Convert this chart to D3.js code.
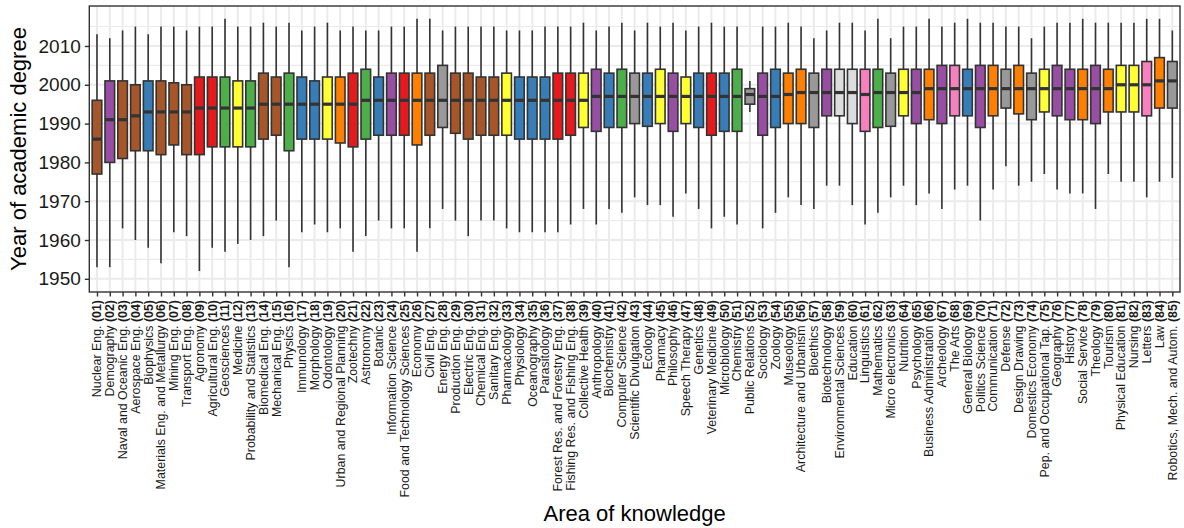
<!DOCTYPE html>
<html>
<head>
<meta charset="utf-8">
<script src="https://cdn.jsdelivr.net/npm/d3@7"></script>
<style>
  html, body { margin: 0; padding: 0; background: #fff; }
  svg { display: block; font-family: "Liberation Sans", Arial, Helvetica, sans-serif; }
</style>
</head>
<body>
<svg id="chart" width="1184" height="528"></svg>
<script>
// Areas of knowledge, in plotting order
const areas = [
  "Nuclear Eng.", "Demography", "Naval and Oceanic Eng.", "Aerospace Eng.", "Biophysics",
  "Materials Eng. and Metallurgy", "Mining Eng.", "Transport Eng.", "Agronomy", "Agricultural Eng.",
  "Geosciences", "Medicine", "Probability and Statistics", "Biomedical Eng.", "Mechanical Eng.",
  "Physics", "Immunology", "Morphology", "Odontology", "Urban and Regional Planning",
  "Zootechny", "Astronomy", "Botanic", "Information Science", "Food and Technology Sciences",
  "Economy", "Civil Eng.", "Energy Eng.", "Production Eng.", "Electric Eng.",
  "Chemical Eng.", "Sanitary Eng.", "Pharmacology", "Physiology", "Oceanography",
  "Parasitology", "Forest Res. and Forestry Eng.", "Fishing Res. and Fishing Eng.", "Collective Health", "Anthropology",
  "Biochemistry", "Computer Science", "Scientific Divulgation", "Ecology", "Pharmacy",
  "Philosophy", "Speech Therapy", "Genetics", "Veterinary Medicine", "Microbiology",
  "Chemistry", "Public Relations", "Sociology", "Zoology", "Museology",
  "Architecture and Urbanism", "Bioethics", "Biotechnology", "Environmental Sciences", "Education",
  "Linguistics", "Mathematics", "Micro electronics", "Nutrition", "Psychology",
  "Business Administration", "Archeology", "The Arts", "General Biology", "Politics Science",
  "Communication", "Defense", "Design Drawing", "Domestics Economy", "Pep. and Occupational Tap.",
  "Geography", "History", "Social Service", "Theology", "Tourism",
  "Physical Education", "Nursing", "Letters", "Law", "Robotics, Mech. and Autom."
];

// Grouping of each area (used for the fill colour)
const groups = [
  "ENG", "HUM", "ENG", "ENG", "BIO", "ENG", "ENG", "ENG", "AGR", "AGR",
  "EXA", "HEA", "EXA", "ENG", "ENG", "EXA", "BIO", "BIO", "HEA", "SOC",
  "AGR", "EXA", "BIO", "HUM", "AGR", "SOC", "ENG", "MUL", "ENG", "ENG",
  "ENG", "ENG", "HEA", "BIO", "BIO", "BIO", "AGR", "AGR", "HEA", "HUM",
  "BIO", "EXA", "MUL", "BIO", "HEA", "HUM", "HEA", "BIO", "AGR", "BIO",
  "EXA", "MUL", "HUM", "BIO", "SOC", "SOC", "MUL", "HUM", "OTH", "OTH",
  "LET", "EXA", "MUL", "HEA", "HUM", "SOC", "HUM", "LET", "BIO", "HUM",
  "SOC", "MUL", "SOC", "MUL", "HEA", "HUM", "HUM", "SOC", "HUM", "SOC",
  "HEA", "HEA", "LET", "SOC", "MUL"
];

// Box plot statistics: lower whisker, first quartile, median, third quartile, upper whisker
const whiskerLow = [
  1953, 1953, 1963, 1960, 1958, 1954, 1962, 1961, 1952, 1958,
  1957, 1959, 1960, 1961, 1965, 1953, 1962, 1964, 1962, 1963,
  1957, 1961, 1965, 1963, 1963, 1957, 1963, 1968, 1965, 1961,
  1965, 1965, 1963, 1962, 1962, 1962, 1962, 1964, 1968, 1964,
  1968, 1967, 1971, 1969, 1969, 1966, 1972, 1968, 1963, 1966,
  1964, 1993, 1963, 1967, 1971, 1969, 1968, 1974, 1974, 1969,
  1964, 1967, 1971, 1974, 1969, 1972, 1968, 1973, 1974, 1965,
  1973, 1979, 1974, 1975, 1977, 1973, 1972, 1972, 1968, 1977,
  1975, 1975, 1971, 1975, 1976
];
const q1 = [
  1977, 1980, 1981, 1983, 1983, 1982, 1984.5, 1982, 1982, 1984,
  1984, 1984, 1984, 1986, 1987, 1983, 1986, 1986, 1986, 1985,
  1984, 1986, 1987, 1987, 1987, 1984.5, 1987, 1989, 1987.5, 1986,
  1987, 1987, 1987, 1986, 1986, 1986, 1986, 1987, 1989, 1988,
  1989, 1989, 1990, 1989.3, 1990, 1988, 1990, 1989, 1987, 1988,
  1988, 1995, 1987, 1989, 1990, 1990, 1989, 1992, 1992, 1990,
  1988, 1989, 1989.3, 1992, 1990, 1991, 1990, 1992, 1992, 1989,
  1992, 1994, 1992.5, 1991, 1993, 1992, 1991, 1991, 1990, 1993,
  1993, 1993, 1992, 1994, 1994
];
const median = [
  1986, 1991, 1991, 1992, 1993, 1993, 1993, 1993, 1994, 1994,
  1994, 1994, 1994, 1995, 1995, 1995, 1995, 1995, 1995, 1995,
  1995, 1996, 1996, 1996, 1996, 1996, 1996, 1996, 1996, 1996,
  1996, 1996, 1996, 1996, 1996, 1996, 1996, 1996, 1996, 1997,
  1997, 1997, 1997, 1997, 1997, 1997, 1997, 1997, 1997, 1997,
  1997, 1997.5, 1997, 1997, 1997.5, 1998, 1998, 1998, 1998, 1998,
  1997.5, 1998, 1998, 1998, 1998, 1999, 1999, 1999, 1999, 1999,
  1999, 1999, 1999, 1999, 1999, 1999, 1999, 1999, 1999, 1999,
  2000, 2000, 2000, 2001, 2001
];
const q3 = [
  1996, 2001, 2001, 2000, 2001, 2001, 2000.5, 2000, 2002, 2002,
  2002, 2001, 2001, 2003, 2002, 2003, 2002, 2001, 2002, 2002,
  2003, 2004, 2002, 2003, 2003, 2003, 2003, 2005, 2003, 2003,
  2002, 2002, 2003, 2002, 2002, 2002, 2003, 2003, 2003, 2004,
  2003, 2004, 2003, 2003, 2004, 2003, 2002, 2003, 2003, 2003,
  2004, 1999, 2003, 2004, 2003, 2004, 2003, 2004, 2004, 2004,
  2004, 2004, 2003, 2004, 2004, 2004, 2005, 2005, 2004, 2005,
  2005, 2004, 2005, 2003, 2004, 2005, 2004, 2004, 2005, 2004,
  2005, 2005, 2006, 2007, 2006
];
const whiskerHigh = [
  2013, 2012, 2014, 2015, 2013, 2015, 2015, 2014, 2015, 2015,
  2017, 2015, 2015, 2016, 2015, 2016, 2014, 2015, 2016, 2014,
  2015, 2014, 2014, 2015, 2015, 2017, 2017, 2014, 2015, 2015,
  2015, 2015, 2014, 2014, 2014, 2015, 2015, 2015, 2016, 2014,
  2015, 2016, 2014, 2016, 2015, 2016, 2014, 2015, 2016, 2015,
  2015, 2001, 2015, 2015, 2016, 2015, 2012, 2014, 2016, 2016,
  2014, 2017, 2012, 2015, 2015, 2017, 2015, 2016, 2017, 2016,
  2016, 2015, 2015, 2012, 2015, 2016, 2016, 2017, 2016, 2016,
  2016, 2016, 2017, 2017, 2014
];

const yearTicks = [1950, 1960, 1970, 1980, 1990, 2000, 2010];
const yearMinor = [1955, 1965, 1975, 1985, 1995, 2005, 2015];

// Group colours (ColorBrewer Set1 plus a light grey)
const groupColor = d3.scaleOrdinal()
  .domain(["AGR", "BIO", "EXA", "HUM", "SOC", "HEA", "ENG", "LET", "MUL", "OTH"])
  .range(["#E41A1C", "#377EB8", "#4DAF4A", "#984EA3", "#FF7F00", "#FFFF33", "#A65628", "#F781BF", "#999999", "#DDDDDD"]);

const data = areas.map((name, i) => ({
  name, code: d3.format("02d")(i + 1), group: groups[i],
  lo: whiskerLow[i], q1: q1[i], med: median[i], q3: q3[i], hi: whiskerHigh[i]
}));

const svg = d3.select("#chart");
const panel = { left: 89.3, right: 1180, top: 6, bottom: 292 };

const x = d3.scalePoint()
  .domain(areas)
  .range([panel.left, panel.right])
  .padding(0.6);

const y = d3.scaleLinear()
  .domain([1946.6, 2020.3])
  .range([panel.bottom, panel.top]);

const boxW = x.step() * 0.75;
const ink = "#333333";
const gridCol = "#EBEBEB";

// Background grid
const grid = svg.append("g");
grid.selectAll("line.minor").data(yearMinor).join("line")
  .attr("x1", panel.left).attr("x2", panel.right)
  .attr("y1", d => y(d)).attr("y2", d => y(d))
  .attr("stroke", gridCol).attr("stroke-width", 1.1);
grid.selectAll("line.major").data(yearTicks).join("line")
  .attr("x1", panel.left).attr("x2", panel.right)
  .attr("y1", d => y(d)).attr("y2", d => y(d))
  .attr("stroke", gridCol).attr("stroke-width", 2);
grid.selectAll("line.vert").data(areas).join("line")
  .attr("x1", d => x(d)).attr("x2", d => x(d))
  .attr("y1", panel.top).attr("y2", panel.bottom)
  .attr("stroke", gridCol).attr("stroke-width", 2);

// Box plots
const boxes = svg.append("g").selectAll("g").data(data).join("g");
boxes.append("line")
  .attr("x1", d => x(d.name)).attr("x2", d => x(d.name))
  .attr("y1", d => y(d.hi)).attr("y2", d => y(d.lo))
  .attr("stroke", ink).attr("stroke-width", 1.6);
boxes.append("rect")
  .attr("x", d => x(d.name) - boxW / 2)
  .attr("width", boxW)
  .attr("y", d => y(d.q3))
  .attr("height", d => y(d.q1) - y(d.q3))
  .attr("fill", d => groupColor(d.group))
  .attr("stroke", ink).attr("stroke-width", 1.6);
boxes.append("line")
  .attr("x1", d => x(d.name) - boxW / 2).attr("x2", d => x(d.name) + boxW / 2)
  .attr("y1", d => y(d.med)).attr("y2", d => y(d.med))
  .attr("stroke", ink).attr("stroke-width", 3.2);

// Panel border
svg.append("rect")
  .attr("x", panel.left).attr("y", panel.top)
  .attr("width", panel.right - panel.left).attr("height", panel.bottom - panel.top)
  .attr("fill", "none").attr("stroke", ink).attr("stroke-width", 1.4);

// Y axis
const yAxis = svg.append("g")
  .attr("transform", `translate(${panel.left},0)`)
  .call(d3.axisLeft(y).tickValues(yearTicks).tickFormat(d3.format("d")).tickSize(4.5).tickPadding(4));
yAxis.select(".domain").remove();
yAxis.selectAll(".tick line").attr("stroke", ink).attr("stroke-width", 1.4);
yAxis.selectAll(".tick text")
  .attr("fill", "#1a1a1a").style("font-size", "19px")
  .style("font-family", "'Liberation Sans', Arial, sans-serif");

// X axis ticks
const xAxis = svg.append("g")
  .attr("transform", `translate(0,${panel.bottom})`)
  .call(d3.axisBottom(x).tickSize(4.5).tickFormat(""));
xAxis.select(".domain").remove();
xAxis.selectAll(".tick line").attr("stroke", ink).attr("stroke-width", 1.4);

// X tick labels: area name followed by its bold number
const labels = svg.append("g").selectAll("text").data(data).join("text")
  .attr("transform", d => `translate(${x(d.name)},300) rotate(-90)`)
  .attr("text-anchor", "end")
  .attr("dy", "0.35em")
  .attr("fill", "#1a1a1a")
  .style("font-size", "12.4px");
labels.append("tspan").text(d => d.name + " ");
labels.append("tspan").attr("font-weight", "bold").text(d => `(${d.code})`);

// Axis titles
svg.append("text")
  .attr("transform", `translate(26,${(panel.top + panel.bottom) / 2}) rotate(-90)`)
  .attr("text-anchor", "middle")
  .attr("fill", "#000")
  .style("font-size", "22px")
  .text("Year of academic degree");

svg.append("text")
  .attr("x", (panel.left + panel.right) / 2)
  .attr("y", 521)
  .attr("text-anchor", "middle")
  .attr("fill", "#000")
  .style("font-size", "22px")
  .text("Area of knowledge");
</script>
</body>
</html>
